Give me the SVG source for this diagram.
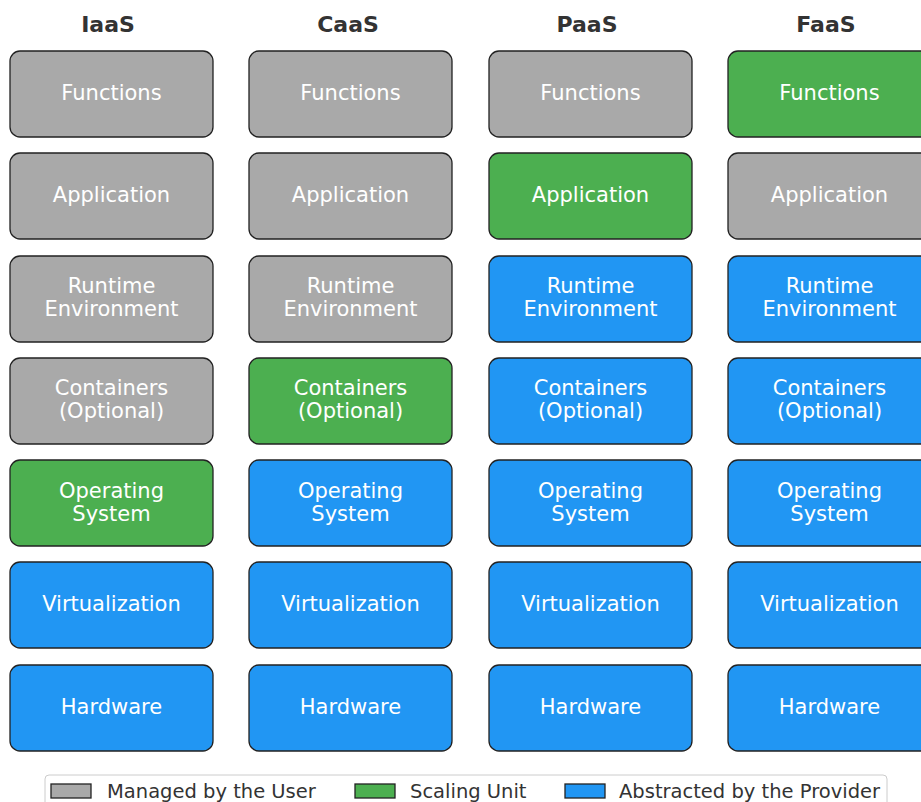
<svg xmlns="http://www.w3.org/2000/svg" width="921" height="802" viewBox="0 0 921 802">
<style>
.b{stroke:#222;stroke-width:1.3}
.u{fill:#a9a9a9}.s{fill:#4caf50}.p{fill:#2196f3}
.t{font-family:"DejaVu Sans",sans-serif;font-size:21px;fill:#fff;text-anchor:middle}
.h{font-family:"DejaVu Sans",sans-serif;font-size:22px;font-weight:bold;fill:#333;text-anchor:middle}
.l{font-family:"DejaVu Sans",sans-serif;font-size:19.5px;fill:#333}
</style>
<rect width="921" height="802" fill="#fff"/>
<g id="titles">
<text class="h" x="108" y="32">IaaS</text>
<text class="h" x="348" y="32">CaaS</text>
<text class="h" x="587" y="32">PaaS</text>
<text class="h" x="826" y="32">FaaS</text>
</g>
<g id="iaas">
<g id="iaas-functions"><rect class="b u" x="10" y="51" width="203" height="86" rx="10"/><text class="t" x="111.5" y="100">Functions</text></g>
<g id="iaas-application"><rect class="b u" x="10" y="153" width="203" height="86" rx="10"/><text class="t" x="111.5" y="202">Application</text></g>
<g id="iaas-runtime"><rect class="b u" x="10" y="256" width="203" height="86" rx="10"/><text class="t" x="111.5" y="293">Runtime</text><text class="t" x="111.5" y="316">Environment</text></g>
<g id="iaas-containers"><rect class="b u" x="10" y="358" width="203" height="86" rx="10"/><text class="t" x="111.5" y="395">Containers</text><text class="t" x="111.5" y="418">(Optional)</text></g>
<g id="iaas-os"><rect class="b s" x="10" y="460" width="203" height="86" rx="10"/><text class="t" x="111.5" y="498">Operating</text><text class="t" x="111.5" y="521">System</text></g>
<g id="iaas-virt"><rect class="b p" x="10" y="562" width="203" height="86" rx="10"/><text class="t" x="111.5" y="611">Virtualization</text></g>
<g id="iaas-hw"><rect class="b p" x="10" y="665" width="203" height="86" rx="10"/><text class="t" x="111.5" y="714">Hardware</text></g>
</g>
<g id="caas">
<g id="caas-functions"><rect class="b u" x="249" y="51" width="203" height="86" rx="10"/><text class="t" x="350.5" y="100">Functions</text></g>
<g id="caas-application"><rect class="b u" x="249" y="153" width="203" height="86" rx="10"/><text class="t" x="350.5" y="202">Application</text></g>
<g id="caas-runtime"><rect class="b u" x="249" y="256" width="203" height="86" rx="10"/><text class="t" x="350.5" y="293">Runtime</text><text class="t" x="350.5" y="316">Environment</text></g>
<g id="caas-containers"><rect class="b s" x="249" y="358" width="203" height="86" rx="10"/><text class="t" x="350.5" y="395">Containers</text><text class="t" x="350.5" y="418">(Optional)</text></g>
<g id="caas-os"><rect class="b p" x="249" y="460" width="203" height="86" rx="10"/><text class="t" x="350.5" y="498">Operating</text><text class="t" x="350.5" y="521">System</text></g>
<g id="caas-virt"><rect class="b p" x="249" y="562" width="203" height="86" rx="10"/><text class="t" x="350.5" y="611">Virtualization</text></g>
<g id="caas-hw"><rect class="b p" x="249" y="665" width="203" height="86" rx="10"/><text class="t" x="350.5" y="714">Hardware</text></g>
</g>
<g id="paas">
<g id="paas-functions"><rect class="b u" x="489" y="51" width="203" height="86" rx="10"/><text class="t" x="590.5" y="100">Functions</text></g>
<g id="paas-application"><rect class="b s" x="489" y="153" width="203" height="86" rx="10"/><text class="t" x="590.5" y="202">Application</text></g>
<g id="paas-runtime"><rect class="b p" x="489" y="256" width="203" height="86" rx="10"/><text class="t" x="590.5" y="293">Runtime</text><text class="t" x="590.5" y="316">Environment</text></g>
<g id="paas-containers"><rect class="b p" x="489" y="358" width="203" height="86" rx="10"/><text class="t" x="590.5" y="395">Containers</text><text class="t" x="590.5" y="418">(Optional)</text></g>
<g id="paas-os"><rect class="b p" x="489" y="460" width="203" height="86" rx="10"/><text class="t" x="590.5" y="498">Operating</text><text class="t" x="590.5" y="521">System</text></g>
<g id="paas-virt"><rect class="b p" x="489" y="562" width="203" height="86" rx="10"/><text class="t" x="590.5" y="611">Virtualization</text></g>
<g id="paas-hw"><rect class="b p" x="489" y="665" width="203" height="86" rx="10"/><text class="t" x="590.5" y="714">Hardware</text></g>
</g>
<g id="faas">
<g id="faas-functions"><rect class="b s" x="728" y="51" width="203" height="86" rx="10"/><text class="t" x="829.5" y="100">Functions</text></g>
<g id="faas-application"><rect class="b u" x="728" y="153" width="203" height="86" rx="10"/><text class="t" x="829.5" y="202">Application</text></g>
<g id="faas-runtime"><rect class="b p" x="728" y="256" width="203" height="86" rx="10"/><text class="t" x="829.5" y="293">Runtime</text><text class="t" x="829.5" y="316">Environment</text></g>
<g id="faas-containers"><rect class="b p" x="728" y="358" width="203" height="86" rx="10"/><text class="t" x="829.5" y="395">Containers</text><text class="t" x="829.5" y="418">(Optional)</text></g>
<g id="faas-os"><rect class="b p" x="728" y="460" width="203" height="86" rx="10"/><text class="t" x="829.5" y="498">Operating</text><text class="t" x="829.5" y="521">System</text></g>
<g id="faas-virt"><rect class="b p" x="728" y="562" width="203" height="86" rx="10"/><text class="t" x="829.5" y="611">Virtualization</text></g>
<g id="faas-hw"><rect class="b p" x="728" y="665" width="203" height="86" rx="10"/><text class="t" x="829.5" y="714">Hardware</text></g>
</g>
<g id="connectors"></g>
<g id="legend">
<rect x="45" y="775" width="842" height="40" rx="4" fill="#fff" stroke="#ccc" stroke-width="1"/>
<rect class="b u" x="51" y="784" width="40" height="14"/><text class="l" x="107" y="798">Managed by the User</text>
<rect class="b s" x="355" y="784" width="40" height="14"/><text class="l" x="410" y="798">Scaling Unit</text>
<rect class="b p" x="565" y="784" width="40" height="14"/><text class="l" x="619" y="798">Abstracted by the Provider</text>
</g>
</svg>
